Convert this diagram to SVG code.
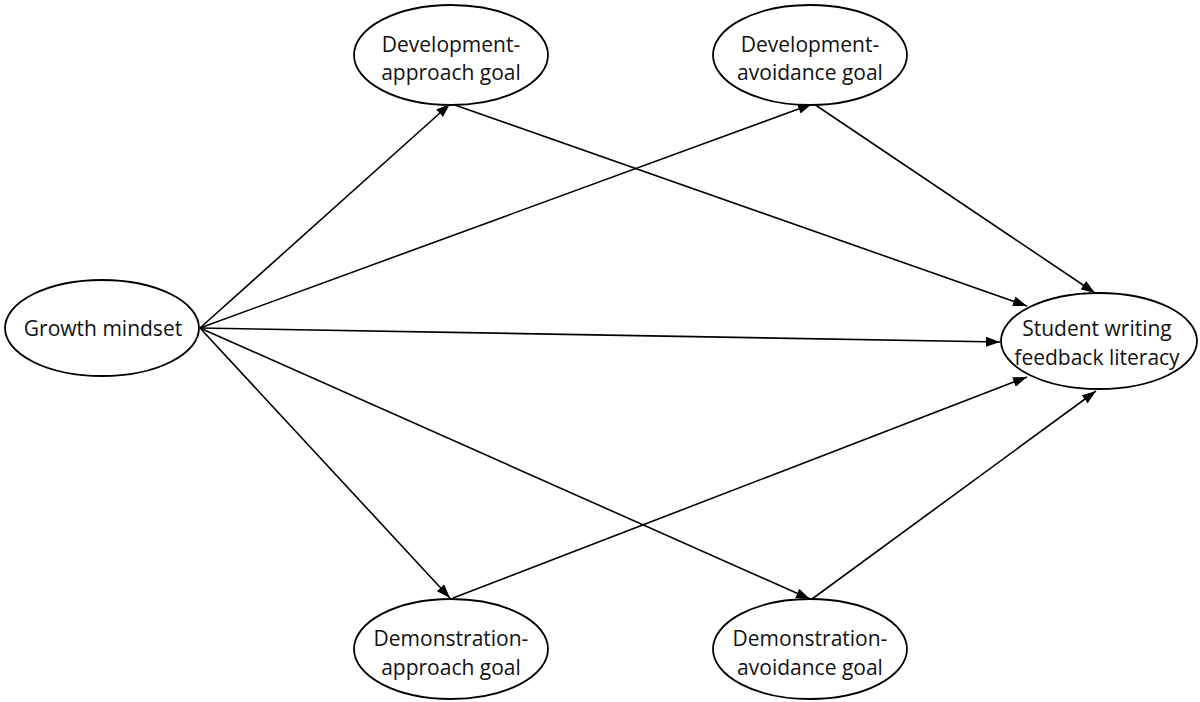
<svg xmlns="http://www.w3.org/2000/svg" width="1200" height="702" viewBox="0 0 1200 702">
<defs>
<marker id="arr" viewBox="0 0 14 10" refX="14" refY="5" markerWidth="14" markerHeight="10" markerUnits="userSpaceOnUse" orient="auto">
<path d="M0,0 L14,5 L0,10 Z" fill="#000"/>
</marker>
<style>
.node ellipse{fill:#fff;stroke:#000;stroke-width:1.8}
.node text{font-family:"Open Sans","Noto Sans",sans-serif;font-size:21px;fill:#111;text-anchor:middle}
.edges line{stroke:#000;stroke-width:1.6;marker-end:url(#arr)}
</style>
</defs>
<rect width="1200" height="702" fill="#fff"/>
<g class="edges" id="connectors">
<line x1="200" y1="328" x2="450" y2="104"/>
<line x1="200" y1="328" x2="812" y2="104"/>
<line x1="200" y1="328" x2="1000" y2="342"/>
<line x1="200" y1="328" x2="450" y2="598"/>
<line x1="200" y1="328" x2="810" y2="599"/>
<line x1="452" y1="104" x2="1027" y2="306"/>
<line x1="814" y1="104" x2="1095" y2="293"/>
<line x1="453" y1="598" x2="1027" y2="377"/>
<line x1="812" y1="599" x2="1096" y2="391"/>
</g>
<g class="node" id="growth">
<ellipse cx="102" cy="328" rx="97" ry="48"/>
<text x="103" y="336">Growth mindset</text>
</g>
<g class="node" id="dev-approach">
<ellipse cx="451" cy="55" rx="97" ry="50"/>
<text x="451" y="52">Development-</text>
<text x="451" y="80">approach goal</text>
</g>
<g class="node" id="dev-avoidance">
<ellipse cx="810" cy="55" rx="97" ry="50"/>
<text x="810" y="52">Development-</text>
<text x="810" y="80">avoidance goal</text>
</g>
<g class="node" id="demo-approach">
<ellipse cx="451" cy="649" rx="97" ry="50"/>
<text x="451" y="646">Demonstration-</text>
<text x="451" y="675">approach goal</text>
</g>
<g class="node" id="demo-avoidance">
<ellipse cx="810" cy="649" rx="97" ry="50"/>
<text x="810" y="646">Demonstration-</text>
<text x="810" y="675">avoidance goal</text>
</g>
<g class="node" id="student">
<ellipse cx="1099" cy="341" rx="98" ry="48"/>
<text x="1097" y="336">Student writing</text>
<text x="1097" y="365">feedback literacy</text>
</g>
</svg>
